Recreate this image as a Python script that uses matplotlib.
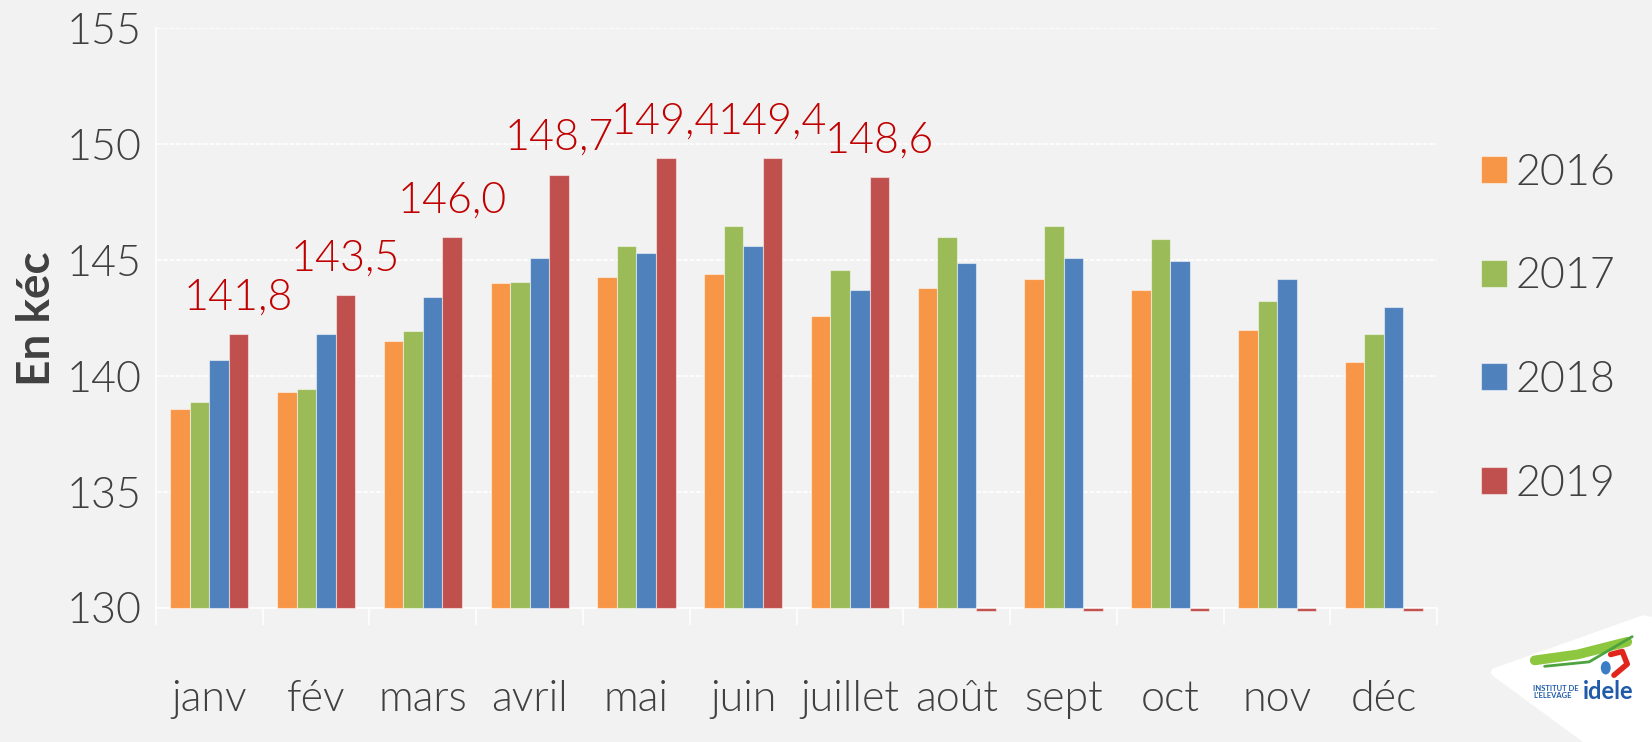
import matplotlib
matplotlib.use("Agg")
from matplotlib import pyplot as plt
from matplotlib.patches import Polygon, Ellipse
from matplotlib.lines import Line2D
import numpy as np

months = ["janv", "fév", "mars", "avril", "mai", "juin", "juillet",
          "août", "sept", "oct", "nov", "déc"]
years = ["2016", "2017", "2018", "2019"]

v2016 = [138.6, 139.3, 141.5, 144.0, 144.3, 144.4, 142.6, 143.8, 144.2, 143.7, 142.0, 140.6]
v2017 = [138.9, 139.45, 141.95, 144.05, 145.6, 146.5, 144.6, 146.0, 146.5, 145.9, 143.25, 141.8]
v2018 = [140.7, 141.8, 143.4, 145.1, 145.3, 145.6, 143.7, 144.9, 145.1, 144.95, 144.2, 143.0]
v2019 = [141.8, 143.5, 146.0, 148.7, 149.4, 149.4, 148.6, 0, 0, 0, 0, 0]

colors = ["#F79646", "#9BBB59", "#4F81BD", "#C0504D"]
bg = "#F2F2F2"
grey = "#404040"
base = 130
fw = 300

plt.rcParams['font.family'] = ['Lato', 'DejaVu Sans']

fig = plt.figure(figsize=(16.52, 7.42), dpi=100, facecolor=bg)
ax = fig.add_axes([0.0944, 0.1806, 0.7756, 0.781], facecolor=bg)

x = np.arange(len(months))
w = 0.183
series = [v2016, v2017, v2018, v2019]
for i, (vals, c, lab) in enumerate(zip(series, colors, years)):
    vals = np.array(vals, dtype=float)
    h = vals - base
    # zero values (no data yet) show as a thin stub under the axis, like Excel
    h = np.where(h < 0, -0.15, h)
    ax.bar(x + (i - 1.5) * w, h, w, bottom=base, color=c, label=lab,
           edgecolor=(1, 1, 1, 0.5), linewidth=0.8, clip_on=False, zorder=3)

# data labels for 2019
for xi, v in zip(x, v2019):
    if v > base:
        ax.annotate(f"{v:.1f}".replace(".", ","), (xi + 1.5 * w, v),
                    xytext=(0, 12), textcoords="offset points",
                    ha="center", va="bottom", color="#C00000", fontsize=31,
                    fontweight=fw)

ax.set_ylim(130, 155)
ax.set_xlim(-0.5, len(months) - 0.5)
ax.set_yticks(range(130, 156, 5))
ax.tick_params(axis="y", length=0, labelsize=31, labelcolor=grey, pad=10)
ax.set_xticks(x)
ax.set_xticklabels(months)
ax.tick_params(axis="x", length=0, labelsize=31, labelcolor=grey, pad=52)
ax.set_xticks(np.arange(-0.5, len(months)), minor=True)
ax.tick_params(axis="x", which="minor", length=12, color="white", width=1.2)
for t in ax.get_xticklabels() + ax.get_yticklabels():
    t.set_fontweight(fw)

ax.grid(axis="y", color="white", linestyle=(0, (3, 1)), linewidth=1.2, zorder=0)
for s in ["top", "right"]:
    ax.spines[s].set_visible(False)
for s in ["left", "bottom"]:
    ax.spines[s].set_color("white")
    ax.spines[s].set_linewidth(1.2)

ax.set_ylabel("En kéc", fontsize=33, fontweight="bold", color=grey)
ax.yaxis.label.set_va("center")
ax.yaxis.set_label_coords(-0.093, 0.5)

leg = fig.legend(loc="center left", bbox_to_anchor=(0.873, 0.557), frameon=False,
                 fontsize=31, labelcolor=grey, labelspacing=1.5, handlelength=0.6,
                 handleheight=0.6, handletextpad=0.2)
for t in leg.get_texts():
    t.set_fontweight(fw)

# logo
logo = Polygon([[0.905, 0.094], [0.9946, 0.165], [1.0, 0.163], [1.0, 0.0], [0.9625, 0.0]],
               closed=True, transform=fig.transFigure, facecolor="white",
               edgecolor="white", linewidth=6, joinstyle="round")
fig.patches.append(logo)
fig.lines.append(Line2D([0.929, 0.955, 0.985], [0.110, 0.118, 0.135], transform=fig.transFigure,
                        color="#8DC63F", linewidth=7, solid_capstyle="round"))
fig.lines.append(Line2D([0.935, 0.962, 0.988], [0.102, 0.108, 0.142], transform=fig.transFigure,
                        color="#4DA33F", linewidth=2, solid_capstyle="round"))
fig.lines.append(Line2D([0.975, 0.982, 0.985, 0.977], [0.118, 0.122, 0.105, 0.090], transform=fig.transFigure,
                        color="#E1251B", linewidth=4, solid_capstyle="round"))
fig.patches.append(Ellipse((0.972, 0.100), 0.006, 0.018, transform=fig.transFigure,
                           facecolor="#3B7DC4", edgecolor="none"))
fig.text(0.928, 0.068, "INSTITUT DE\nL'ELEVAGE", fontsize=5.5, color="#1F5BA8",
         fontweight="bold", linespacing=1.0, va="center")
fig.text(0.958, 0.068, "idele", fontsize=17, color="#1F5BA8",
         fontweight="bold", va="center")

fig.savefig("out.png", dpi=100, facecolor=bg)
